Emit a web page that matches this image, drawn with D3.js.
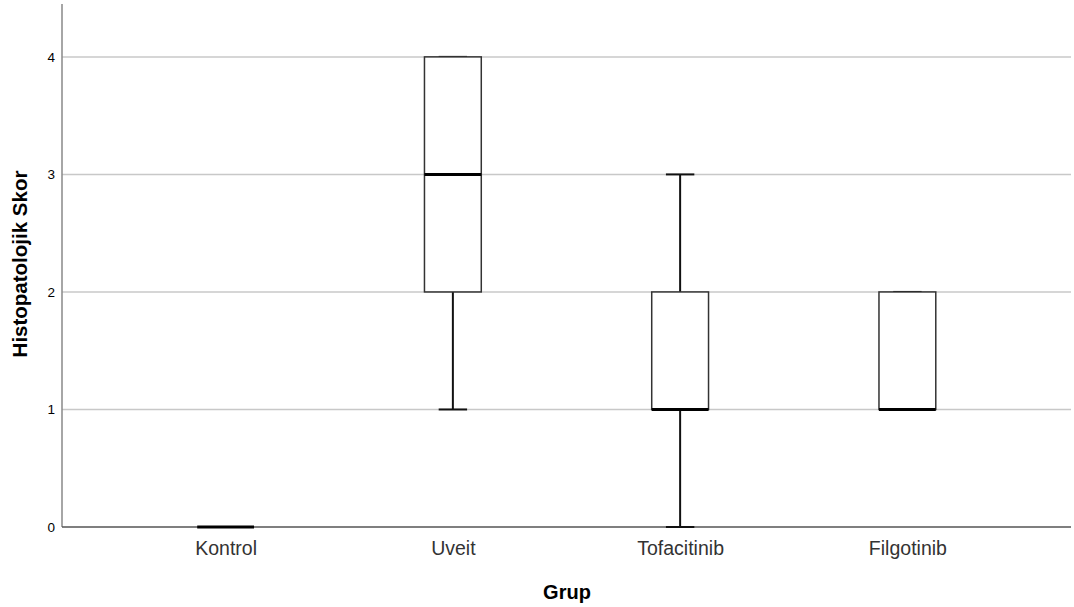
<!DOCTYPE html>
<html>
<head>
<meta charset="utf-8">
<script src="https://cdn.jsdelivr.net/npm/d3@7.9.0/dist/d3.min.js"></script>
<style>
  body { margin: 0; background: #fff; }
  text { font-family: Arial, "Liberation Sans", sans-serif; }
</style>
</head>
<body>
<svg width="1074" height="607"></svg>
<script>
// box plot data
const groups = ['Kontrol', 'Uveit', 'Tofacitinib', 'Filgotinib'];
const mins    = [0, 1, 0, 1];
const q1s     = [0, 2, 1, 1];
const medians = [0, 3, 1, 1];
const q3s     = [0, 4, 2, 2];
const maxs    = [0, 4, 3, 2];
const yTicks  = [0, 1, 2, 3, 4];

const svg = d3.select('svg');
const plotLeft = 62, plotRight = 1071, plotTop = 4, plotBottom = 527;

const x = d3.scalePoint().domain(groups).range([plotLeft, plotRight]).padding(0.72);
const y = d3.scaleLinear().domain([0, 4.45]).range([plotBottom, plotTop]);
const boxW = x.step() * 0.25;
const capW = boxW / 2;

// gridlines
svg.append('g')
  .selectAll('line')
  .data(yTicks.filter(d => d > 0))
  .join('line')
  .attr('x1', plotLeft).attr('x2', plotRight)
  .attr('y1', d => y(d)).attr('y2', d => y(d))
  .attr('stroke', '#c8c8c8').attr('stroke-width', 1.5);

// y axis
const yAxis = svg.append('g')
  .attr('transform', `translate(${plotLeft},0)`)
  .call(d3.axisLeft(y).tickValues(yTicks).tickSize(0).tickPadding(7).tickFormat(d3.format('d')));
yAxis.select('.domain').attr('stroke', '#888').attr('stroke-width', 1.5).attr('d', `M0,${plotTop}V${plotBottom}`);
yAxis.selectAll('text').attr('font-size', 13.5).attr('fill', '#000');

// x axis
const xAxis = svg.append('g')
  .attr('transform', `translate(0,${plotBottom})`)
  .call(d3.axisBottom(x).tickSize(0).tickPadding(14));
xAxis.select('.domain').attr('stroke', '#555').attr('stroke-width', 1.5).attr('d', `M${plotLeft},0H${plotRight}`);
xAxis.selectAll('text').attr('font-size', 19.5).attr('fill', '#333');

// boxes
const rows = groups.map((g, i) => ({ g, min: mins[i], q1: q1s[i], med: medians[i], q3: q3s[i], max: maxs[i] }));
const box = svg.append('g').selectAll('g').data(rows).join('g');

// whiskers
box.append('line')
  .attr('x1', d => x(d.g)).attr('x2', d => x(d.g))
  .attr('y1', d => y(d.q3)).attr('y2', d => y(d.max))
  .attr('stroke', '#111').attr('stroke-width', 2);
box.append('line')
  .attr('x1', d => x(d.g)).attr('x2', d => x(d.g))
  .attr('y1', d => y(d.q1)).attr('y2', d => y(d.min))
  .attr('stroke', '#111').attr('stroke-width', 2);
// caps
box.filter(d => d.max > d.q1).append('line')
  .attr('x1', d => x(d.g) - capW / 2).attr('x2', d => x(d.g) + capW / 2)
  .attr('y1', d => y(d.max)).attr('y2', d => y(d.max))
  .attr('stroke', '#111').attr('stroke-width', 2);
box.filter(d => d.min < d.q3).append('line')
  .attr('x1', d => x(d.g) - capW / 2).attr('x2', d => x(d.g) + capW / 2)
  .attr('y1', d => y(d.min)).attr('y2', d => y(d.min))
  .attr('stroke', '#111').attr('stroke-width', 2);

box.filter(d => d.q3 > d.q1).append('rect')
  .attr('x', d => x(d.g) - boxW / 2)
  .attr('y', d => y(d.q3))
  .attr('width', boxW)
  .attr('height', d => y(d.q1) - y(d.q3))
  .attr('fill', '#fff')
  .attr('stroke', '#333').attr('stroke-width', 1.5);

// medians
box.append('line')
  .attr('x1', d => x(d.g) - boxW / 2).attr('x2', d => x(d.g) + boxW / 2)
  .attr('y1', d => y(d.med)).attr('y2', d => y(d.med))
  .attr('stroke', '#000').attr('stroke-width', 3);

// axis titles
svg.append('text')
  .attr('x', 567).attr('y', 599)
  .attr('text-anchor', 'middle')
  .attr('font-size', 20).attr('font-weight', 'bold')
  .text('Grup');

svg.append('text')
  .attr('transform', 'translate(27,264) rotate(-90)')
  .attr('text-anchor', 'middle')
  .attr('font-size', 20.5).attr('font-weight', 'bold')
  .text('Histopatolojik Skor');
</script>
</body>
</html>
